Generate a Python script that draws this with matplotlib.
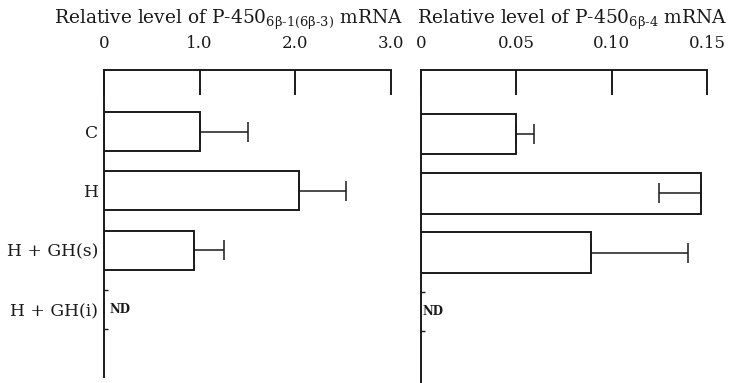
import matplotlib
matplotlib.use('Agg')
import matplotlib.pyplot as plt

plt.rcParams['font.family'] = 'DejaVu Serif'
plt.rcParams['mathtext.fontset'] = 'custom'
plt.rcParams['mathtext.rm'] = 'DejaVu Serif'
plt.rcParams['mathtext.it'] = 'DejaVu Serif'

# groups, top to bottom
groups = ['C', 'H', 'H + GH(s)', 'H + GH(i)']

# P-450 6b-1(6b-3) mRNA
vals_a = [1.0, 2.04, 0.94]
err_a = [0.50, 0.49, 0.31]

# P-450 6b-4 mRNA (the H error bar points to the left)
vals_b = [0.050, 0.147, 0.089]
err_b_lo = [0.0, 0.022, 0.0]
err_b_hi = [0.0095, 0.0, 0.051]

ticks_a = [0, 1.0, 2.0, 3.0]
ticklabels_a = ['0', '1.0', '2.0', '3.0']
ticks_b = [0, 0.05, 0.10, 0.15]
ticklabels_b = ['0', '0.05', '0.10', '0.15']

ink = '#1a1a1a'
fig = plt.figure(figsize=(7.31, 3.83), dpi=100)
ax1 = fig.add_axes([0.1423, 0.0157, 0.3926, 0.8016])
ax2 = fig.add_axes([0.5759, 0.0, 0.3912, 0.8172])


def style(ax, ticks, labels, xmax, ylim):
    ax.set_xlim(0, xmax)
    ax.set_ylim(*ylim)
    for s in ['right', 'bottom']:
        ax.spines[s].set_visible(False)
    for s in ['top', 'left']:
        ax.spines[s].set_linewidth(1.4)
        ax.spines[s].set_color(ink)
    ax.xaxis.tick_top()
    ax.set_xticks(ticks)
    ax.set_xticklabels(labels)
    ax.tick_params(axis='x', direction='in', length=18, width=1.4, color=ink,
                   pad=13, labelsize=12, labelcolor=ink)
    ax.set_yticks([2.67, 3.33], minor=True)
    ax.tick_params(axis='y', which='minor', direction='in', length=3, width=1, color=ink)


w = 0.66
ax1.barh(range(3), vals_a, height=w, color='white', edgecolor=ink, linewidth=1.4)
ax1.errorbar(vals_a, range(3), xerr=[[0] * 3, err_a], fmt='none', ecolor=ink,
             elinewidth=1.1, capsize=7, capthick=1.1)
style(ax1, ticks_a, ticklabels_a, 3.0, (4.14, -1.04))
ax1.set_yticks(range(4))
ax1.set_yticklabels(groups)
ax1.tick_params(axis='y', which='major', length=0, pad=4, labelsize=12.3, labelcolor=ink)
ax1.text(0.06, 3, 'ND', fontsize=8.5, fontweight='bold', va='center', color=ink)

w2 = 0.69
ax2.barh(range(3), vals_b, height=w2, color='white', edgecolor=ink, linewidth=1.4)
ax2.errorbar(vals_b, range(3), xerr=[err_b_lo, err_b_hi], fmt='none', ecolor=ink,
             elinewidth=1.1, capsize=7, capthick=1.1)
style(ax2, ticks_b, ticklabels_b, 0.15, (4.2, -1.08))
ax2.set_yticks([])
ax2.text(0.001, 3, 'ND', fontsize=8.5, fontweight='bold', va='center', color=ink)

fig.text(0.3125, 0.947, r'Relative level of P-450$_{\mathregular{6\beta‐1(6\beta‐3)}}$ mRNA',
         ha='center', va='center', fontsize=13.4, color=ink)
fig.text(0.783, 0.947, r'Relative level of P-450$_{\mathregular{6\beta‐4}}$ mRNA',
         ha='center', va='center', fontsize=13.4, color=ink)

fig.savefig('out.png', dpi=100)
